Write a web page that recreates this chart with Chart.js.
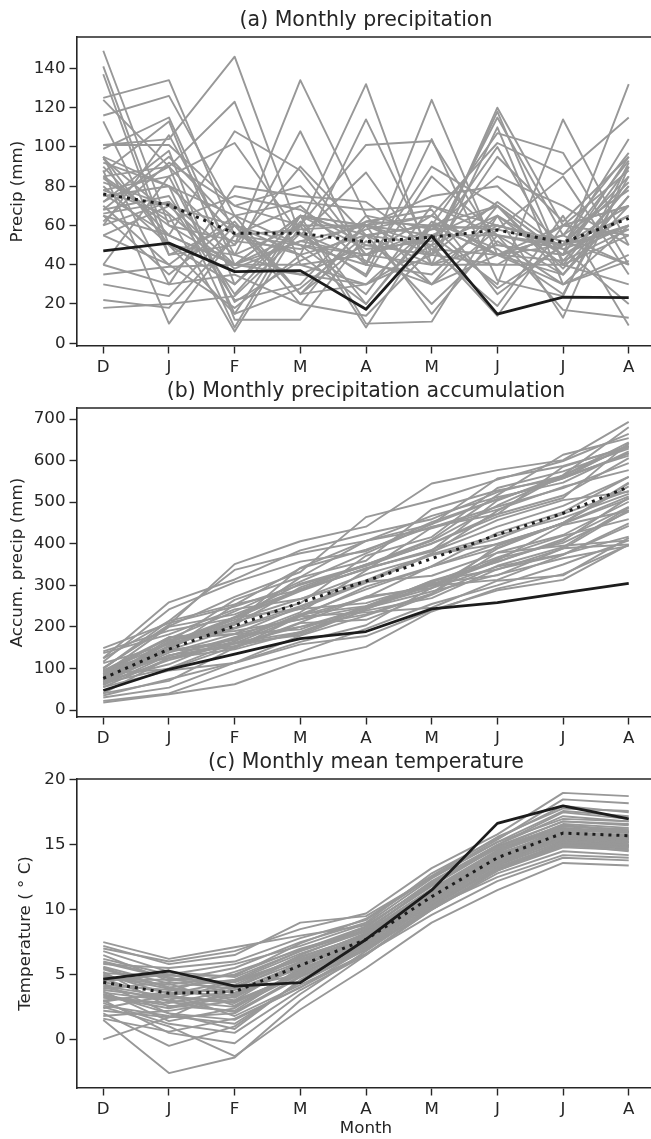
<!DOCTYPE html>
<html>
<head>
<meta charset="utf-8">
<script src="https://cdn.jsdelivr.net/npm/chart.js@4.4.1/dist/chart.umd.min.js"></script>
<style>
html, body { margin: 0; padding: 0; background: #fff; width: 651px; height: 1139px; overflow: hidden; }
.panel { position: absolute; left: 0; }
.panel canvas { display: block; }
</style>
</head>
<body>
<div class="panel" style="top:0px"><canvas id="chartA" width="660" height="396"></canvas></div>
<div class="panel" style="top:371px"><canvas id="chartB" width="660" height="396"></canvas></div>
<div class="panel" style="top:742px"><canvas id="chartC" width="660" height="397"></canvas></div>
<script>
// months on the x axis
const months = ['D', 'J', 'F', 'M', 'A', 'M', 'J', 'J', 'A'];

// observed (black) and ensemble mean (dotted) monthly precip, mm
const precipObs = [47, 51, 36.5, 37, 17.3, 54.6, 14.8, 23.5, 23.2];
const precipMean = [76, 70.4, 56, 56, 51.7, 54, 57.7, 51.4, 63.6];

// ensemble members, monthly precip, mm
const precipMembers = [
  [149, 60, 40, 52, 45, 55, 70, 45, 90],
  [101, 104, 146, 55, 35, 104, 32, 24, 92],
  [141, 50, 30, 65, 55, 40, 60, 50, 70],
  [137, 45, 60, 25, 60, 45, 40, 60, 55],
  [125, 134, 55, 70, 40, 35, 65, 40, 80],
  [124, 90, 123, 40, 30, 60, 45, 35, 75],
  [116, 126, 65, 50, 25, 70, 55, 50, 60],
  [113, 45, 50, 134, 65, 30, 45, 55, 40],
  [101, 101, 70, 60, 132, 40, 50, 45, 65],
  [99, 115, 40, 35, 50, 45, 120, 60, 70],
  [90, 55, 108, 88, 45, 55, 30, 114, 50],
  [87, 113, 30, 60, 60, 50, 65, 45, 132],
  [60, 106, 45, 108, 40, 124, 45, 30, 60],
  [82, 70, 60, 45, 114, 45, 118, 40, 55],
  [80, 50, 45, 60, 101, 103, 50, 45, 60],
  [78, 85, 102, 55, 87, 40, 110, 30, 45],
  [75, 80, 50, 90, 55, 60, 107, 97, 40],
  [72, 90, 55, 50, 45, 65, 102, 86, 115],
  [70, 40, 65, 25, 30, 50, 115, 55, 97],
  [68, 75, 25, 62, 20, 60, 28, 50, 93],
  [65, 35, 62, 25, 52, 30, 70, 35, 75],
  [55, 70, 40, 65, 60, 55, 55, 48, 60],
  [60, 72, 22, 30, 65, 58, 60, 52, 40],
  [55, 40, 18, 45, 20, 62, 48, 25, 85],
  [85, 90, 15, 28, 55, 20, 52, 30, 42],
  [95, 30, 35, 20, 62, 60, 58, 85, 35],
  [40, 85, 21, 42, 58, 65, 45, 55, 78],
  [35, 39, 40, 65, 48, 52, 100, 42, 80],
  [30, 24, 60, 50, 40, 90, 70, 38, 75],
  [18, 20, 24, 56, 34, 85, 55, 35, 70],
  [22, 18, 55, 45, 55, 60, 45, 50, 58],
  [88, 10, 55, 58, 60, 75, 80, 50, 85],
  [78, 65, 6, 60, 8, 60, 70, 45, 95],
  [72, 98, 12, 12, 55, 50, 14, 60, 70],
  [95, 50, 15, 65, 10, 11, 65, 13, 90],
  [68, 95, 60, 20, 14, 48, 19, 65, 9],
  [95, 80, 8, 65, 60, 15, 55, 17, 13],
  [65, 55, 40, 40, 45, 40, 40, 40, 30],
  [85, 62, 75, 68, 50, 45, 72, 48, 20],
  [92, 80, 65, 72, 68, 70, 60, 50, 82],
  [62, 92, 70, 80, 45, 58, 85, 70, 50],
  [40, 30, 80, 75, 72, 48, 45, 60, 88],
  [66, 72, 45, 35, 30, 45, 95, 62, 95],
  [84, 60, 52, 48, 62, 68, 25, 50, 65],
  [76, 55, 40, 56, 42, 30, 58, 50, 104],
  [94, 66, 38, 52, 60, 65, 45, 42, 58]
];

// observed and ensemble mean monthly temperature, deg C
const tempObs = [4.65, 5.27, 4.1, 4.37, 7.7, 11.5, 16.65, 18.0, 17.0];
const tempMean = [4.4, 3.55, 3.67, 5.7, 7.7, 11.0, 14.0, 15.9, 15.7];

// ensemble members, monthly temperature, deg C
const tempMembers = [
  [0.0, 1.7, 4.0, 5.0, 7.2, 10.5, 13.5, 15.5, 15.2],
  [1.5, -2.6, -1.4, 3.0, 6.5, 10.0, 13.0, 15.0, 14.8],
  [7.5, 6.2, 7.1, 8.0, 8.8, 12.0, 14.8, 16.5, 16.0],
  [7.2, 5.8, 6.5, 9.0, 9.5, 12.5, 15.2, 17.0, 16.8],
  [2.0, -0.5, 1.0, 4.5, 7.0, 11.0, 14.0, 16.0, 15.5],
  [3.0, 0.5, -0.3, 3.5, 6.8, 10.2, 13.2, 15.0, 14.5],
  [2.5, 1.0, -1.3, 2.3, 5.5, 9.0, 11.5, 13.6, 13.4],
  [6.5, 4.5, 5.5, 7.5, 9.0, 12.8, 15.5, 18.0, 17.5],
  [5.5, 4.0, 3.0, 6.0, 8.0, 11.5, 14.5, 16.2, 16.0],
  [4.0, 3.0, 2.5, 5.0, 7.5, 11.0, 14.0, 15.8, 15.6],
  [3.5, 2.0, 1.5, 4.0, 7.0, 10.5, 13.5, 15.2, 15.0],
  [4.5, 5.0, 4.0, 6.5, 8.5, 11.8, 14.8, 16.8, 16.5],
  [5.0, 3.5, 4.5, 6.2, 7.8, 11.2, 14.2, 15.9, 15.8],
  [6.0, 4.8, 3.5, 5.5, 8.2, 11.5, 14.0, 16.0, 15.4],
  [3.2, 2.8, 3.8, 5.8, 7.4, 10.8, 13.8, 15.5, 15.2],
  [2.2, 1.7, 2.0, 4.8, 7.0, 10.0, 12.8, 14.5, 14.2],
  [4.8, 4.2, 5.0, 7.0, 8.4, 12.0, 15.0, 17.5, 17.0],
  [5.8, 5.5, 6.0, 7.8, 9.2, 12.5, 15.4, 18.5, 18.2],
  [3.8, 3.2, 2.8, 5.2, 7.6, 10.6, 13.6, 15.4, 15.0],
  [4.2, 3.8, 3.2, 6.0, 7.9, 11.1, 14.1, 16.1, 15.9],
  [1.8, 2.2, 3.0, 5.0, 7.3, 10.4, 13.3, 15.1, 14.9],
  [6.8, 5.2, 4.8, 6.8, 8.6, 12.2, 15.0, 17.2, 16.8],
  [3.0, 3.5, 1.8, 4.2, 6.6, 10.0, 13.0, 14.8, 14.6],
  [5.2, 2.5, 3.5, 5.6, 7.7, 11.0, 14.0, 15.7, 15.5],
  [4.6, 4.6, 4.2, 6.4, 8.0, 11.4, 14.4, 16.4, 16.2],
  [2.8, 1.2, 0.5, 3.8, 6.5, 10.2, 12.5, 14.2, 14.0],
  [3.6, 3.0, 4.5, 6.6, 8.3, 11.6, 14.6, 16.6, 16.3],
  [5.6, 4.3, 2.6, 5.3, 7.5, 10.8, 13.6, 15.6, 15.3],
  [4.3, 2.0, 0.8, 4.6, 7.2, 10.6, 13.4, 15.3, 15.1],
  [2.4, 3.4, 4.0, 6.0, 8.0, 11.3, 14.3, 16.0, 15.7],
  [7.0, 6.0, 6.8, 8.5, 9.7, 13.2, 15.8, 19.0, 18.75],
  [3.4, 2.6, 2.2, 5.4, 7.6, 10.9, 13.9, 15.6, 15.4],
  [4.9, 3.9, 3.6, 5.9, 7.8, 11.2, 14.2, 16.2, 16.0],
  [2.6, 1.8, 1.2, 4.4, 6.9, 10.3, 13.1, 14.9, 14.7],
  [6.2, 5.0, 5.8, 7.2, 8.9, 12.4, 15.2, 17.6, 17.2],
  [3.9, 4.4, 3.9, 6.3, 8.1, 11.4, 14.3, 15.9, 15.7],
  [4.1, 3.3, 2.9, 5.1, 7.4, 10.7, 13.7, 15.4, 15.2],
  [5.4, 4.0, 4.6, 6.8, 8.4, 11.9, 14.9, 16.8, 16.6],
  [3.3, 2.4, 3.3, 5.6, 7.7, 11.0, 14.0, 15.8, 15.5],
  [1.6, 0.6, 1.6, 4.0, 6.6, 9.6, 12.2, 14.0, 13.8],
  [4.4, 3.6, 3.4, 5.7, 7.8, 11.0, 14.0, 15.9, 15.7],
  [5.9, 4.7, 4.4, 6.1, 8.2, 11.5, 14.5, 16.5, 16.1],
  [3.7, 1.4, 2.4, 5.5, 7.1, 10.4, 13.2, 15.0, 14.8],
  [2.9, 3.7, 5.2, 6.9, 8.7, 12.1, 14.7, 16.3, 16.0],
  [5.1, 4.9, 4.9, 7.4, 9.3, 12.6, 15.6, 17.8, 17.6],
  [4.7, 2.9, 2.1, 4.9, 7.0, 10.1, 13.0, 15.2, 14.9]
];

// tick labels on the y axes
const precipTicks = [0, 20, 40, 60, 80, 100, 120, 140];
const accumTicks = [0, 100, 200, 300, 400, 500, 600, 700];
const tempTicks = [0, 5, 10, 15, 20];

// running total of a monthly series
function accumulate(arr) {
  let s = 0;
  return arr.map(v => (s += v));
}

const ink = '#262626';
Chart.defaults.font.family = "'DejaVu Sans', sans-serif";
Chart.defaults.color = ink;

// top and right spines
const frame = {
  id: 'frame',
  afterDraw(chart) {
    const { ctx, chartArea: a } = chart;
    ctx.save();
    ctx.strokeStyle = ink;
    ctx.lineWidth = 1.6;
    ctx.beginPath();
    ctx.moveTo(a.left, a.top);
    ctx.lineTo(a.right, a.top);
    ctx.lineTo(a.right, a.bottom);
    ctx.stroke();
    ctx.restore();
  }
};

function lineSets(members, mean, obs) {
  const pts = arr => arr.map((v, i) => ({ x: i, y: v }));
  const sets = [
    { data: pts(obs), borderColor: '#1c1c1c', borderWidth: 2.8 },
    { data: pts(mean), borderColor: '#1c1c1c', borderWidth: 3, borderDash: [3, 5], borderCapStyle: 'butt' }
  ];
  members.forEach(m => sets.push({ data: pts(m), borderColor: '#989898', borderWidth: 1.9 }));
  return sets;
}

function makeChart(id, o) {
  const tickFont = { size: 16.7 };
  return new Chart(document.getElementById(id), {
    type: 'line',
    data: { datasets: lineSets(o.members, o.mean, o.obs) },
    plugins: [frame],
    options: {
      responsive: false,
      animation: false,
      devicePixelRatio: 1,
      layout: { padding: { left: 0, right: 5, top: 0, bottom: 0 } },
      elements: {
        point: { radius: 0 },
        line: { tension: 0, borderJoinStyle: 'round', fill: false }
      },
      plugins: {
        legend: { display: false },
        tooltip: { enabled: false },
        title: {
          display: true,
          fullSize: false,
          text: o.title,
          color: ink,
          font: { size: 20.5, weight: 'normal' },
          padding: { top: 8.4, bottom: 4 }
        }
      },
      scales: {
        x: {
          type: 'linear',
          min: -0.4,
          max: 8.4,
          afterBuildTicks: s => { s.ticks = months.map((m, i) => ({ value: i })); },
          afterFit: s => { s.height = o.xHeight; },
          ticks: { font: tickFont, color: ink, padding: 4, maxRotation: 0, autoSkip: false,
                   callback: v => months[v] },
          grid: { drawOnChartArea: false, drawTicks: true, tickLength: 7.5, tickColor: ink, tickWidth: 1.4 },
          border: { display: true, color: ink, width: 1.6 },
          title: { display: !!o.xTitle, text: o.xTitle, color: ink, font: tickFont, padding: { top: 0, bottom: 0 } }
        },
        y: {
          type: 'linear',
          min: o.yMin,
          max: o.yMax,
          afterBuildTicks: s => { s.ticks = o.yTicks.map(v => ({ value: v })); },
          afterFit: s => { s.width = 77; },
          ticks: { font: tickFont, color: ink, padding: 4 },
          grid: { drawOnChartArea: false, drawTicks: true, tickLength: 7.5, tickColor: ink, tickWidth: 1.4 },
          border: { display: true, color: ink, width: 1.6 },
          title: { display: true, text: o.yTitle, color: ink, font: tickFont, padding: { top: o.yTitlePad, bottom: 0 } }
        }
      }
    }
  });
}

makeChart('chartA', {
  title: '(a) Monthly precipitation',
  yTitle: 'Precip (mm)',
  members: precipMembers, mean: precipMean, obs: precipObs,
  yMin: -1.4, yMax: 156, yTicks: precipTicks, yTitlePad: 8, xHeight: 50
});

makeChart('chartB', {
  title: '(b) Monthly precipitation accumulation',
  yTitle: 'Accum. precip (mm)',
  members: precipMembers.map(accumulate), mean: accumulate(precipMean), obs: accumulate(precipObs),
  yMin: -16.8, yMax: 726.5, yTicks: accumTicks, yTitlePad: 8, xHeight: 50
});

makeChart('chartC', {
  title: '(c) Monthly mean temperature',
  yTitle: 'Temperature ( \u00b0 C)',
  members: tempMembers, mean: tempMean, obs: tempObs,
  yMin: -3.75, yMax: 20.07, yTicks: tempTicks, yTitlePad: 16, xHeight: 51, xTitle: 'Month'
});
</script>
</body>
</html>
